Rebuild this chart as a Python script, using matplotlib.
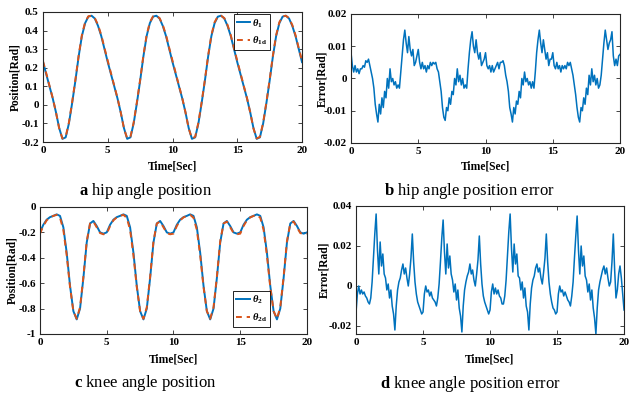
import numpy as np
import matplotlib
matplotlib.use("Agg")
import matplotlib.pyplot as plt

plt.rcParams['font.family'] = ['Liberation Serif', 'DejaVu Serif']
plt.rcParams['mathtext.fontset'] = 'custom'
plt.rcParams['mathtext.rm'] = 'Liberation Serif'
plt.rcParams['mathtext.it'] = 'Liberation Serif:italic'
plt.rcParams['mathtext.bf'] = 'Liberation Serif:bold'
plt.rcParams['mathtext.bfit'] = 'Liberation Serif:bold:italic'

BLUE = '#0072BD'
RED = '#D95319'

# Zeitachsen (Position alle 0.25 s, Fehler alle 0.1 s)
t_pos = np.arange(81) * 0.25
t_err = np.arange(201) * 0.1

# Hueftwinkel [rad]
hip_actual = [
    0.23, 0.165, 0.10, 0.035, -0.04, -0.125, -0.183, -0.175, -0.10, 0.01,
    0.13, 0.26, 0.37, 0.44, 0.475, 0.48, 0.465, 0.425, 0.37, 0.30,
    0.23, 0.165, 0.10, 0.035, -0.04, -0.125, -0.183, -0.175, -0.10, 0.01,
    0.13, 0.26, 0.37, 0.44, 0.475, 0.48, 0.465, 0.425, 0.37, 0.30,
    0.23, 0.165, 0.10, 0.035, -0.04, -0.125, -0.183, -0.175, -0.10, 0.01,
    0.13, 0.26, 0.37, 0.44, 0.475, 0.48, 0.465, 0.425, 0.37, 0.30,
    0.23, 0.165, 0.10, 0.035, -0.04, -0.125, -0.183, -0.175, -0.10, 0.01,
    0.13, 0.26, 0.37, 0.44, 0.475, 0.48, 0.465, 0.425, 0.37, 0.30,
    0.23]
hip_desired = [
    0.235, 0.17, 0.103, 0.037, -0.04, -0.127, -0.181, -0.172, -0.095, 0.015,
    0.135, 0.265, 0.375, 0.445, 0.477, 0.48, 0.467, 0.43, 0.375, 0.305,
    0.237, 0.17, 0.103, 0.037, -0.04, -0.127, -0.181, -0.172, -0.095, 0.015,
    0.135, 0.265, 0.375, 0.445, 0.477, 0.48, 0.467, 0.43, 0.375, 0.305,
    0.237, 0.17, 0.103, 0.037, -0.04, -0.127, -0.181, -0.172, -0.095, 0.015,
    0.135, 0.265, 0.375, 0.445, 0.477, 0.48, 0.467, 0.43, 0.375, 0.305,
    0.237, 0.17, 0.103, 0.037, -0.04, -0.127, -0.181, -0.172, -0.095, 0.015,
    0.135, 0.265, 0.375, 0.445, 0.477, 0.48, 0.467, 0.43, 0.375, 0.305,
    0.237]

# Kniewinkel [rad]
knee_actual = [
    -0.20, -0.14, -0.10, -0.08, -0.07, -0.058, -0.07, -0.16, -0.36, -0.62,
    -0.82, -0.885, -0.80, -0.56, -0.28, -0.13, -0.11, -0.15, -0.20, -0.21,
    -0.20, -0.14, -0.10, -0.08, -0.07, -0.058, -0.07, -0.16, -0.36, -0.62,
    -0.82, -0.885, -0.80, -0.56, -0.28, -0.13, -0.11, -0.15, -0.20, -0.21,
    -0.20, -0.14, -0.10, -0.08, -0.07, -0.058, -0.07, -0.16, -0.36, -0.62,
    -0.82, -0.885, -0.80, -0.56, -0.28, -0.13, -0.11, -0.15, -0.20, -0.21,
    -0.20, -0.14, -0.10, -0.08, -0.07, -0.058, -0.07, -0.16, -0.36, -0.62,
    -0.82, -0.885, -0.80, -0.56, -0.28, -0.13, -0.11, -0.15, -0.20, -0.21,
    -0.20]
knee_desired = [
    -0.21, -0.15, -0.105, -0.082, -0.07, -0.062, -0.085, -0.18, -0.38, -0.63,
    -0.82, -0.88, -0.79, -0.55, -0.27, -0.13, -0.115, -0.16, -0.205, -0.215,
    -0.21, -0.15, -0.105, -0.082, -0.07, -0.062, -0.085, -0.18, -0.38, -0.63,
    -0.82, -0.88, -0.79, -0.55, -0.27, -0.13, -0.115, -0.16, -0.205, -0.215,
    -0.21, -0.15, -0.105, -0.082, -0.07, -0.062, -0.085, -0.18, -0.38, -0.63,
    -0.82, -0.88, -0.79, -0.55, -0.27, -0.13, -0.115, -0.16, -0.205, -0.215,
    -0.21, -0.15, -0.105, -0.082, -0.07, -0.062, -0.085, -0.18, -0.38, -0.63,
    -0.82, -0.88, -0.79, -0.55, -0.27, -0.13, -0.115, -0.16, -0.205, -0.215,
    -0.21]

# Hueftwinkel-Fehler [rad]
hip_error = [
    0.008, 0.004, 0.002, 0.004, 0.002, 0.003, 0.0015, 0.003, 0.003, 0.004,
    0.0035, 0.0055, 0.005, 0.006, 0.004, 0.002, 0.0, -0.003, -0.008, -0.011,
    -0.0135, -0.008, -0.011, -0.006, -0.009, -0.004, -0.006, 0.0, -0.003, 0.003,
    -0.001, 0.0, -0.002, -0.001, -0.003, -0.002, -0.003, 0.002, 0.007, 0.012,
    0.015, 0.011, 0.008, 0.013, 0.009, 0.007, 0.009, 0.004, 0.005, 0.007,
    0.009, 0.005, 0.003, 0.005, 0.003, 0.004, 0.002, 0.004, 0.003, 0.005,
    0.004, 0.005, 0.0045, 0.005, 0.003, 0.002, -0.001, -0.004, -0.009, -0.012,
    -0.013, -0.009, -0.010, -0.006, -0.008, -0.004, -0.005, 0.0, -0.002, 0.003,
    -0.001, 0.001, -0.002, 0.0, -0.003, -0.002, -0.003, 0.003, 0.008, 0.012,
    0.0145, 0.010, 0.008, 0.012, 0.008, 0.006, 0.008, 0.004, 0.005, 0.006,
    0.008, 0.004, 0.003, 0.004, 0.002, 0.004, 0.002, 0.003, 0.004, 0.005,
    0.003, 0.005, 0.005, 0.0055, 0.004, 0.001, -0.001, -0.004, -0.009, -0.011,
    -0.0135, -0.009, -0.011, -0.007, -0.008, -0.004, -0.006, 0.0, -0.002, 0.002,
    -0.001, 0.0, -0.002, -0.001, -0.003, -0.001, -0.003, 0.002, 0.008, 0.012,
    0.015, 0.011, 0.008, 0.012, 0.009, 0.006, 0.008, 0.004, 0.006, 0.006,
    0.008, 0.004, 0.003, 0.005, 0.003, 0.004, 0.002, 0.004, 0.003, 0.004,
    0.003, 0.005, 0.004, 0.005, 0.003, 0.001, -0.002, -0.005, -0.009, -0.012,
    -0.0135, -0.009, -0.010, -0.006, -0.008, -0.003, -0.005, 0.001, -0.002, 0.003,
    -0.001, 0.001, -0.002, 0.0, -0.003, -0.002, 0.001, 0.006, 0.011, 0.015,
    0.012, 0.009, 0.011, 0.012, 0.0145, 0.007, 0.004, 0.006, 0.004, 0.007,
    0.0075]

# Kniewinkel-Fehler [rad]
knee_error = [
    -0.013, -0.004, 0.0, -0.004, -0.002, -0.004, -0.003, -0.005, -0.006, -0.008,
    -0.009, -0.006, 0.002, 0.014, 0.026, 0.036, 0.018, 0.006, 0.022, 0.010,
    0.016, 0.006, 0.004, -0.002, 0.001, -0.006, -0.002, -0.010, -0.014, -0.022,
    -0.010, -0.002, 0.002, 0.004, 0.008, 0.011, 0.006, 0.009, 0.004, 0.0,
    0.006, 0.014, 0.026, 0.012, 0.002, -0.004, -0.008, -0.010, -0.012, -0.014,
    -0.013, -0.004, 0.0, -0.003, -0.002, -0.005, -0.003, -0.006, -0.007, -0.008,
    -0.010, -0.006, 0.001, 0.012, 0.024, 0.033, 0.017, 0.006, 0.021, 0.009,
    0.015, 0.006, 0.003, -0.003, 0.001, -0.007, -0.002, -0.011, -0.015, -0.023,
    -0.010, -0.002, 0.002, 0.005, 0.007, 0.011, 0.006, 0.008, 0.003, 0.0,
    0.006, 0.013, 0.025, 0.011, 0.001, -0.005, -0.008, -0.010, -0.012, -0.014,
    -0.012, -0.003, 0.001, -0.004, -0.001, -0.004, -0.002, -0.005, -0.006, -0.009,
    -0.009, -0.005, 0.003, 0.015, 0.027, 0.036, 0.019, 0.007, 0.021, 0.011,
    0.016, 0.005, 0.004, -0.002, 0.002, -0.006, -0.001, -0.010, -0.013, -0.022,
    -0.009, -0.001, 0.003, 0.005, 0.009, 0.011, 0.007, 0.009, 0.004, 0.001,
    0.007, 0.014, 0.026, 0.012, 0.002, -0.004, -0.008, -0.011, -0.012, -0.014,
    -0.013, -0.004, 0.0, -0.003, -0.002, -0.005, -0.003, -0.005, -0.007, -0.008,
    -0.010, -0.005, 0.002, 0.014, 0.025, 0.035, 0.018, 0.006, 0.020, 0.010,
    0.015, 0.005, 0.003, -0.003, 0.001, -0.007, -0.002, -0.011, -0.016, -0.024,
    -0.011, -0.002, 0.002, 0.005, 0.008, 0.010, 0.006, 0.009, 0.004, 0.0,
    0.002, 0.012, 0.026, 0.008, -0.006, -0.002, 0.006, 0.010, 0.004, -0.004,
    -0.012]


def style_axes(ax, xlim, ylim, yticks, yticklabels, ylabel, ylabel_x, xlabel_y):
    ax.set_xlim(*xlim)
    ax.set_ylim(*ylim)
    ax.set_xticks([0, 5, 10, 15, 20])
    ax.set_xticklabels(['0', '5', '10', '15', '20'])
    ax.set_yticks(yticks)
    ax.set_yticklabels(yticklabels)
    ax.tick_params(direction='in', top=True, right=True, length=3, width=0.6,
                   labelsize=8, pad=3, colors='#262626', labelcolor='black')
    for lbl in ax.get_xticklabels() + ax.get_yticklabels():
        lbl.set_fontweight('bold')
    for sp in ax.spines.values():
        sp.set_linewidth(0.8)
        sp.set_color('#262626')
    ax.set_xlabel('Time[Sec]', fontsize=8.3, fontweight='bold')
    ax.set_ylabel(ylabel, fontsize=8.3, fontweight='bold')
    ax.xaxis.set_label_coords(0.5, xlabel_y)
    ax.yaxis.set_label_coords(ylabel_x, 0.5)


fig = plt.figure(figsize=(6.43, 3.96), dpi=100)

# a: Hueftwinkel
ax_a = fig.add_axes([0.0669, 0.6414, 0.4028, 0.3283])
ax_a.plot(t_pos, hip_actual, color=BLUE, lw=1.4, label=r'$\mathbfit{\theta}_{\mathbf{1}}$')
ax_a.plot(t_pos, hip_desired, color=RED, lw=1.4, ls=(0, (3, 2.5)),
          label=r'$\mathbfit{\theta}_{\mathbf{1d}}$')
style_axes(ax_a, (0, 20), (-0.2, 0.5), np.arange(-0.2, 0.51, 0.1),
           ['-0.2', '-0.1', '0', '0.1', '0.2', '0.3', '0.4', '0.5'],
           'Position[Rad]', -0.083, -0.146)
leg = ax_a.legend(loc='upper right', bbox_to_anchor=(0.878, 0.985), fontsize=7.5,
                  handlelength=1.3, handletextpad=0.2, borderpad=0.3,
                  labelspacing=0.5, fancybox=False, framealpha=1, borderaxespad=0)
leg.get_frame().set_edgecolor('black')
leg.get_frame().set_linewidth(0.6)

# b: Hueftwinkel-Fehler
ax_b = fig.add_axes([0.5459, 0.6389, 0.4184, 0.3258])
ax_b.plot(t_err, hip_error, color=BLUE, lw=1.1)
style_axes(ax_b, (0, 20), (-0.02, 0.02), [-0.02, -0.01, 0, 0.01, 0.02],
           ['-0.02', '-0.01', '0', '0.01', '0.02'],
           'Error[Rad]', -0.084, -0.132)

# c: Kniewinkel
ax_c = fig.add_axes([0.0622, 0.1566, 0.4152, 0.3207])
ax_c.plot(t_pos, knee_actual, color=BLUE, lw=1.4, label=r'$\mathbfit{\theta}_{\mathbf{2}}$')
ax_c.plot(t_pos, knee_desired, color=RED, lw=1.4, ls=(0, (3, 2.5)),
          label=r'$\mathbfit{\theta}_{\mathbf{2d}}$')
style_axes(ax_c, (0, 20), (-1, 0), [-1, -0.8, -0.6, -0.4, -0.2, 0],
           ['-1', '-0.8', '-0.6', '-0.4', '-0.2', '0'],
           'Position[Rad]', -0.08, -0.15)
leg = ax_c.legend(loc='lower right', bbox_to_anchor=(0.861, 0.055), fontsize=7.5,
                  handlelength=1.3, handletextpad=0.2, borderpad=0.3,
                  labelspacing=0.5, fancybox=False, framealpha=1, borderaxespad=0)
leg.get_frame().set_edgecolor('black')
leg.get_frame().set_linewidth(0.6)

# d: Kniewinkel-Fehler
ax_d = fig.add_axes([0.5537, 0.1566, 0.4168, 0.3232])
ax_d.plot(t_err, knee_error, color=BLUE, lw=1.1)
style_axes(ax_d, (0, 20), (-0.024, 0.04), [-0.02, 0, 0.02, 0.04],
           ['-0.02', '0', '0.02', '0.04'],
           'Error[Rad]', -0.095, -0.15)

# Bildunterschriften
captions = [(146, 191, 'a', 'hip angle position'),
            (469, 191, 'b', 'hip angle position error'),
            (145, 383, 'c', 'knee angle position'),
            (470, 384, 'd', 'knee angle position error')]
for cx, cy, letter, text in captions:
    fig.text(cx / 643, 1 - cy / 396, r'$\mathbf{' + letter + '}$ ' + text,
             ha='center', va='center', fontsize=12)

fig.savefig('out.png', dpi=100)
